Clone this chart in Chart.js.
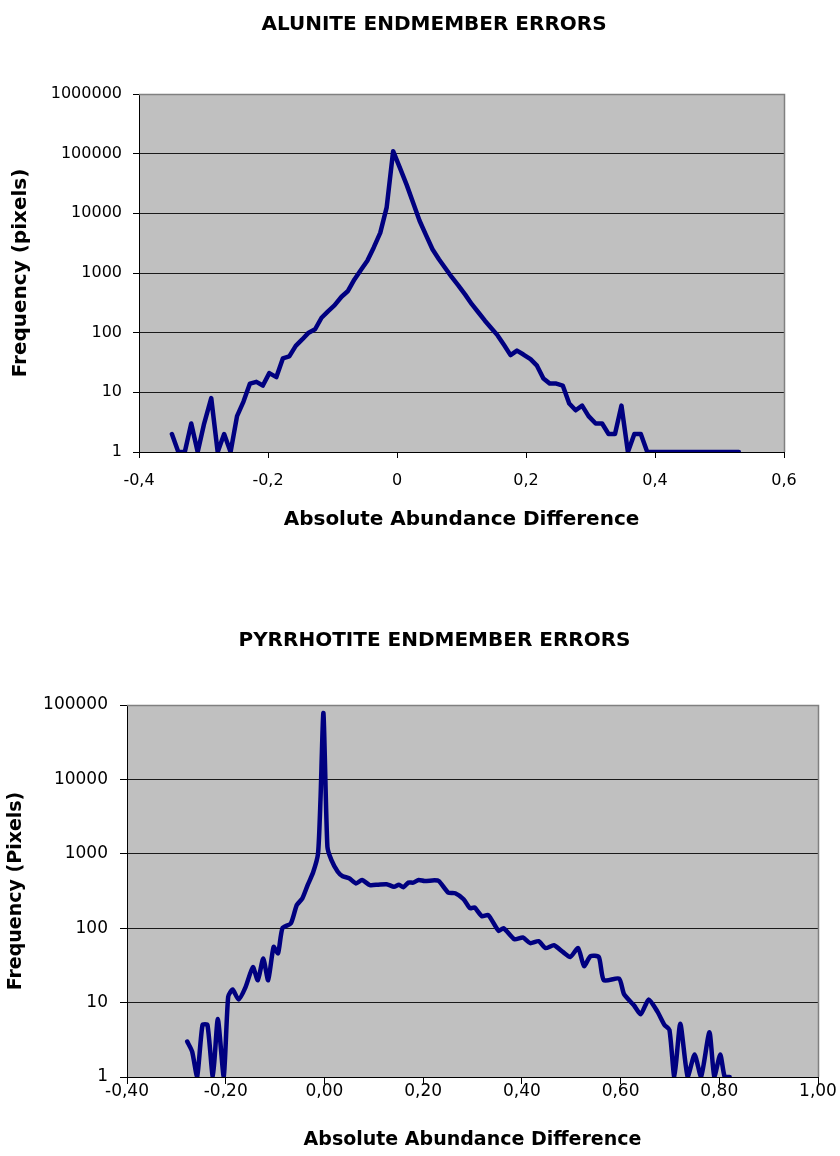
<!DOCTYPE html>
<html><head><meta charset="utf-8">
<script src="https://cdn.jsdelivr.net/npm/chart.js@4/dist/chart.umd.min.js"></script>
<style>
html,body{margin:0;padding:0;background:#fff;overflow:hidden;width:840px;height:1156px;}
canvas{position:absolute;left:0;}
#c1{top:0;}
#c2{top:590px;}
</style></head><body>
<canvas id="c1" width="859" height="590"></canvas>
<canvas id="c2" width="864" height="566"></canvas>
<script>
// ---------- DATA ----------
const aluniteX = [-0.349,-0.339,-0.329,-0.319,-0.309,-0.299,-0.288,-0.278,-0.268,-0.258,
  -0.248,-0.238,-0.228,-0.218,-0.208,-0.198,-0.187,-0.177,-0.167,-0.157,
  -0.147,-0.137,-0.127,-0.117,-0.107,-0.097,-0.086,-0.076,-0.066,-0.056,
  -0.046,-0.036,-0.026,-0.016,-0.006,0.005,0.015,0.025,0.035,0.045,
  0.055,0.065,0.075,0.085,0.095,0.106,0.116,0.126,0.136,0.146,
  0.156,0.166,0.176,0.186,0.196,0.207,0.217,0.227,0.237,0.247,
  0.257,0.267,0.277,0.287,0.297,0.308,0.318,0.328,0.338,0.348,
  0.358,0.368,0.378,0.388,0.398,0.409,0.419,0.429,0.439,0.449,
  0.459,0.469,0.479,0.489,0.499,0.510,0.520,0.530];
const aluniteY = [2,1,1,3,1,3,8,1,2,1,
  4,7,14,15,13,21,18,37,40,60,
  77,100,114,178,228,286,400,500,780,1120,
  1600,2680,4700,12600,110000,56000,30000,15000,7500,4300,
  2500,1700,1200,850,620,430,300,220,160,120,
  90,62,42,50,43,36,28,17,14,14,
  13,6.5,5,6,4,3,3,2,2,6,
  1,2,2,1,1,1,1,1,1,1,
  1,1,1,1,1,1,1,1];
const aluniteXTicks = [-0.4,-0.2,0,0.2,0.4,0.6];
const aluniteXTickLabels = ['-0,4','-0,2','0','0,2','0,4','0,6'];
const aluniteYTicks = [1,10,100,1000,10000,100000,1000000];

const pyrrhotiteX = [-0.278,-0.268,-0.258,-0.247,-0.237,-0.226,-0.216,-0.204,-0.195,-0.186,
  -0.174,-0.160,-0.145,-0.135,-0.124,-0.114,-0.103,-0.094,-0.085,-0.068,
  -0.056,-0.045,-0.034,-0.023,-0.013,-0.008,-0.002,0.006,0.014,0.027,
  0.037,0.050,0.064,0.076,0.092,0.109,0.126,0.141,0.151,0.160,
  0.170,0.180,0.191,0.203,0.223,0.232,0.251,0.265,0.282,0.295,
  0.304,0.319,0.332,0.353,0.363,0.385,0.402,0.417,0.434,0.448,
  0.465,0.483,0.498,0.514,0.526,0.539,0.556,0.566,0.597,0.607,
  0.627,0.641,0.657,0.675,0.689,0.699,0.709,0.721,0.736,0.750,
  0.763,0.780,0.790,0.802,0.811,0.821];
const pyrrhotiteY = [3,2.2,1,5,5,1,6,1,12,15,
  11,16,30,20,39,20,56,46,100,116,
  205,250,380,560,1000,5300,78000,1250,830,575,
  500,470,400,445,380,385,390,360,385,355,
  410,410,445,430,440,430,300,295,245,185,
  190,145,150,92,100,71,75,63,67,54,
  59,48,41,54,31,42,41,20,21,13,
  9.2,7,11,7.5,5,4.3,1,5.2,1,2,
  1,4,1,2,1,1];
const pyrrhotiteXTicks = [-0.4,-0.2,0,0.2,0.4,0.6,0.8,1.0];
const pyrrhotiteXTickLabels = ['-0,40','-0,20','0,00','0,20','0,40','0,60','0,80','1,00'];
const pyrrhotiteYTicks = [1,10,100,1000,10000,100000];

// ---------- STYLE ----------
const FONT = "'DejaVu Sans', sans-serif";

const plotFrame = {
  id: 'plotFrame',
  beforeDraw(chart) {
    const {ctx, chartArea: a} = chart;
    ctx.save();
    ctx.fillStyle = '#c0c0c0';
    ctx.fillRect(a.left, a.top, a.right - a.left, a.bottom - a.top);
    ctx.restore();
  },
  beforeDatasetsDraw(chart) {
    const {ctx, chartArea: a} = chart;
    ctx.save();
    ctx.strokeStyle = '#808080';
    ctx.lineWidth = 1.5;
    ctx.beginPath();
    ctx.moveTo(a.left, a.top + 0.5);
    ctx.lineTo(a.right + 0.5, a.top + 0.5);
    ctx.lineTo(a.right + 0.5, a.bottom);
    ctx.stroke();
    ctx.restore();
  }
};

function build(canvasId, o) {
  return new Chart(document.getElementById(canvasId), {
    type: 'line',
    data: {
      datasets: [{
        data: o.xs.map((x, i) => ({x: x, y: o.ys[i]})),
        borderColor: '#000080',
        borderWidth: 4.5,
        pointRadius: 0,
        tension: o.tension,
        borderJoinStyle: 'round',
        borderCapStyle: 'round',
        fill: false
      }]
    },
    options: {
      responsive: false,
      animation: false,
      devicePixelRatio: 1,
      layout: {padding: {left: o.padLeft, right: 0, top: 0, bottom: 0}},
      plugins: {
        legend: {display: false},
        tooltip: {enabled: false},
        title: {
          display: true, text: o.title, color: '#000',
          font: {family: FONT, size: 20, weight: 'bold'},
          padding: {top: o.titleTop, bottom: o.titleBottom}
        }
      },
      scales: {
        x: {
          type: 'linear', min: o.xTicks[0], max: o.xTicks[o.xTicks.length - 1],
          afterBuildTicks: s => { s.ticks = o.xTicks.map(v => ({value: v})); },
          afterFit: s => { s.height = o.xHeight; },
          grid: {drawOnChartArea: false, drawTicks: true, tickLength: o.tickLen, color: '#000'},
          border: {color: '#000', width: 1},
          ticks: {
            color: '#000', font: {family: FONT, size: o.tickSize}, padding: o.xTickPad,
            maxRotation: 0, autoSkip: false,
            callback: (v, i) => o.xLabels[i]
          },
          title: {
            display: true, text: 'Absolute Abundance Difference', color: '#000',
            font: {family: FONT, size: o.axisTitleSize, weight: 'bold'},
            padding: {top: 0, bottom: o.xTitlePad}
          }
        },
        y: {
          type: 'logarithmic', position: 'left',
          min: o.yTicks[0], max: o.yTicks[o.yTicks.length - 1],
          afterBuildTicks: s => { s.ticks = o.yTicks.map(v => ({value: v})); },
          afterFit: s => { s.width = o.yWidth; },
          grid: {
            drawOnChartArea: true, drawTicks: true, tickLength: o.tickLen,
            color: c => (c.tick && c.tick.value === o.yTicks[o.yTicks.length - 1]) ? '#808080' : '#1a1a1a',
            tickColor: '#000', lineWidth: 1
          },
          border: {color: '#000', width: 1},
          ticks: {
            color: '#000', font: {family: FONT, size: o.tickSize}, padding: o.yTickPad,
            autoSkip: false, callback: v => String(v)
          },
          title: {
            display: true, text: o.yTitle, color: '#000',
            font: {family: FONT, size: o.axisTitleSize, weight: 'bold'},
            padding: {top: 0, bottom: 0}
          }
        },
        yRight: {
          type: 'linear', position: 'right', display: true,
          grid: {display: false}, border: {display: false}, ticks: {display: false},
          afterFit: s => { s.width = o.rightWidth; }
        }
      }
    },
    plugins: [plotFrame]
  });
}

build('c1', {
  xs: aluniteX, ys: aluniteY, tension: 0,
  title: 'ALUNITE ENDMEMBER ERRORS', yTitle: 'Frequency (pixels)',
  xTicks: aluniteXTicks, xLabels: aluniteXTickLabels, yTicks: aluniteYTicks,
  padLeft: 9, titleTop: 13, titleBottom: 57,
  xHeight: 138, yWidth: 130, rightWidth: 75,
  tickLen: 6, tickSize: 16, xTickPad: 13, yTickPad: 11,
  axisTitleSize: 20, xTitlePad: 58
});

build('c2', {
  xs: pyrrhotiteX, ys: pyrrhotiteY, tension: 0.2,
  title: 'PYRRHOTITE ENDMEMBER ERRORS', yTitle: 'Frequency (Pixels)',
  xTicks: pyrrhotiteXTicks, xLabels: pyrrhotiteXTickLabels, yTicks: pyrrhotiteYTicks,
  padLeft: 5, titleTop: 39, titleBottom: 52,
  xHeight: 79, yWidth: 122, rightWidth: 46,
  tickLen: 7, tickSize: 17, xTickPad: -3, yTickPad: 12,
  axisTitleSize: 19, xTitlePad: 5
});
</script>
</body></html>
